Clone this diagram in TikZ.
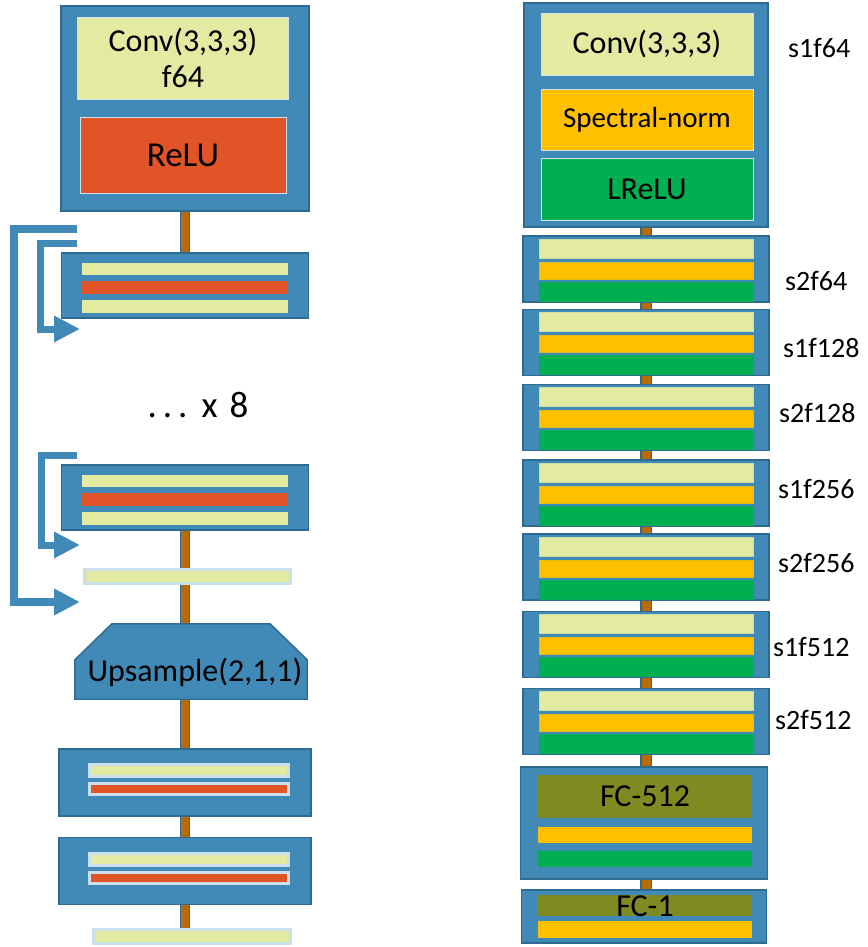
\documentclass[tikz,border=0pt]{standalone}
\usepackage{fontspec}
\setmainfont{Carlito}
\usetikzlibrary{positioning,calc,arrows.meta,backgrounds}
\definecolor{blueM}{HTML}{418AB8}
\definecolor{blueD}{HTML}{2F6B8F}
\definecolor{yellowC}{HTML}{E3EBA2}
\definecolor{redC}{HTML}{E05427}
\definecolor{orangeC}{HTML}{FFC000}
\definecolor{greenC}{HTML}{00B050}
\definecolor{oliveC}{HTML}{808A22}
\definecolor{brownC}{HTML}{B86B0A}
\colorlet{glowC}{white!72!blueM}

\begin{document}
\begin{tikzpicture}[x=1pt,y=-1pt,
		blkbox/.style={draw=blueD,fill=blueM,line width=1.4pt,inner sep=0pt},
		band/.style={inner sep=0pt,draw=white!75!blueM,line width=0.8pt},
		flatband/.style={inner sep=0pt,draw=#1!85!blueM,fill=#1,line width=0.5pt},
		glowband/.style={inner sep=0pt,draw=glowC,line width=3pt},
		stem/.style={draw=blueD,double=brownC,double distance=8pt,line width=1.2pt},
		skiparrow/.style={draw=blueM,line width=7.5pt,-{Triangle[width=25pt,length=26pt]}},
		lbl/.style={anchor=west,inner sep=0pt,font=\fontsize{28}{30}\selectfont},
		txtbig/.style={font=\fontsize{32}{36}\selectfont}]
	\useasboundingbox (0,0) rectangle (867,947);
	
	% generator (left)
	\node[blkbox,minimum width=248pt,minimum height=205pt] (lconv) at (185,108.5) {};
	\node[band,fill=yellowC,minimum width=211pt,minimum height=82pt,txtbig,align=center] (lconvtxt) at (183,58) {Conv(3,3,3)\\f64};
	\node[band,fill=redC,minimum width=206pt,minimum height=76pt,font=\fontsize{35}{38}\selectfont] (lrelu) at (183,155) {ReLU};
	
	\foreach \n/\yc in {lb1/285.5,lb2/497.5}{
		\node[blkbox,minimum width=247pt,minimum height=65pt] (\n) at (185,\yc) {};
		\node[inner sep=0pt,fill=yellowC,minimum width=206pt,minimum height=12pt] (\n a) at (185,\yc-17) {};
		\node[inner sep=0pt,fill=redC,minimum width=206pt,minimum height=13pt] (\n b) at (185,\yc+2) {};
		\node[inner sep=0pt,fill=yellowC,minimum width=206pt,minimum height=13pt] (\n c) at (185,\yc+21) {};
	}
	\node[font=\fontsize{37}{40}\selectfont] (rep) at (198,405) {.\kern6pt.\kern6pt.\hspace{14pt}x\hspace{12pt}8};
	\node[glowband,fill=yellowC,minimum width=206pt,minimum height=14pt] (lbar1) at (187.5,576.5) {};
	
	\node[inner sep=0pt,minimum width=232pt,minimum height=75pt] (ups) at (191,661.5) {};
	\draw[blkbox] ([xshift=37pt]ups.north west) -- ([xshift=-37pt]ups.north east) -- ([yshift=-36pt]ups.north east)
		-- (ups.south east) -- (ups.south west) -- ([yshift=-36pt]ups.north west) -- cycle;
	\node[txtbig,inner sep=0pt] (upstxt) at ([xshift=4pt,yshift=-10.5pt]ups.center) {Upsample(2,1,1)};
	
	\foreach \n/\yc in {lb3/782.5,lb4/871}{
		\node[blkbox,minimum width=252pt,minimum height=67pt] (\n) at (185,\yc) {};
		\node[glowband,fill=yellowC,minimum width=199pt,minimum height=12pt] (\n a) at (189,\yc-12) {};
		\node[glowband,fill=redC,minimum width=199pt,minimum height=11pt] (\n b) at (189,\yc+6.5) {};
	}
	\node[glowband,fill=yellowC,minimum width=197pt,minimum height=14pt] (lbar2) at (192,936.5) {};
	
	% skip connections
	\coordinate (skOa) at (77,229);
	\coordinate (skOb) at (80,602);
	\coordinate (skAa) at (77,243);
	\coordinate (skAb) at (80,329);
	\coordinate (skBa) at (77,455);
	\coordinate (skBb) at (80,545);
	\draw[skiparrow] (skOa) -- ++(-63,0) |- (skOb);
	\draw[skiparrow,line width=7pt] (skAa) -- ++(-37,0) |- (skAb);
	\draw[skiparrow,line width=7pt] (skBa) -- ++(-36,0) |- (skBb);
	
	% discriminator (right)
	\node[blkbox,minimum width=244pt,minimum height=224pt] (rtop) at (646,115) {};
	\node[band,fill=yellowC,minimum width=212pt,minimum height=62pt,txtbig] (rconv) at (647,44) {Conv(3,3,3)};
	\node[band,fill=orangeC,minimum width=212pt,minimum height=61pt,font=\fontsize{29}{32}\selectfont] (rsn) at (647,119.5) {Spectral-norm};
	\node[band,fill=greenC,minimum width=212pt,minimum height=62pt,txtbig] (rlrelu) at (647,189) {LReLU};
	\node[lbl] (ltop) at (788,48) {s1f64};
	
	\foreach \n/\yc/\lx/\ly/\lab in {r1/269/785/281/s2f64,r2/342.5/783/348/s1f128,r3/417.5/779/413/s2f128,
		r4/493/778/489/s1f256,r5/567/778/563/s2f256,r6/644.5/773/647/s1f512,r7/721.5/775/720/s2f512}{
		\node[blkbox,minimum width=246pt,minimum height=66pt] (\n) at (646,\yc) {};
		\node[flatband=yellowC,minimum width=214pt,minimum height=19pt] (\n a) at (646,\yc-20.5) {};
		\node[flatband=orangeC,minimum width=214pt,minimum height=17pt] (\n b) at (646,\yc+1.5) {};
		\node[flatband=greenC,minimum width=214pt,minimum height=19pt] (\n c) at (646,\yc+22.5) {};
		\node[lbl] (\n l) at (\lx,\ly) {\lab};
	}
	
	\node[blkbox,minimum width=247pt,minimum height=112pt] (rfc) at (644,823) {};
	\node[inner sep=0pt,fill=oliveC,minimum width=214pt,minimum height=43pt,txtbig] (rfctxt) at (645,796.5) {FC-512};
	\node[inner sep=0pt,fill=orangeC,minimum width=214pt,minimum height=16pt] (rfcb) at (645,835) {};
	\node[inner sep=0pt,fill=greenC,minimum width=214pt,minimum height=16pt] (rfcc) at (645,859) {};
	
	\node[blkbox,minimum width=245pt,minimum height=53pt] (rfcone) at (644,916.5) {};
	\node[inner sep=0pt,fill=oliveC,minimum width=214pt,minimum height=21pt] (rfconea) at (645,905.5) {};
	\node[inner sep=0pt,fill=orangeC,minimum width=214pt,minimum height=17pt] (rfconeb) at (645,929.5) {};
	\node[txtbig,inner sep=0pt] (rfconetxt) at (645,906) {FC-1};
	
	% stems
	\begin{scope}[on background layer]
		\draw[stem] (lconv.south) -- (lb1.north);
		\draw[stem] (lb2.south) -- (lb2.south |- ups.north);
		\draw[stem] (lb3.north |- ups.south) -- (lb3.north);
		\draw[stem] (lb3.south) -- (lb4.north);
		\draw[stem] (lb4.south) -- (lb4.south |- lbar2.north);
		\foreach \a/\b in {rtop/r1,r1/r2,r2/r3,r3/r4,r4/r5,r5/r6,r6/r7}
			\draw[stem,double distance=9pt] (\a.south) -- (\b.north);
		\draw[stem,double distance=9pt] (r7.south) -- (r7.south |- rfc.north);
		\draw[stem,double distance=9pt] (rfc.south -| r7.south) -- (rfcone.north -| r7.south);
	\end{scope}
\end{tikzpicture}
\end{document}
